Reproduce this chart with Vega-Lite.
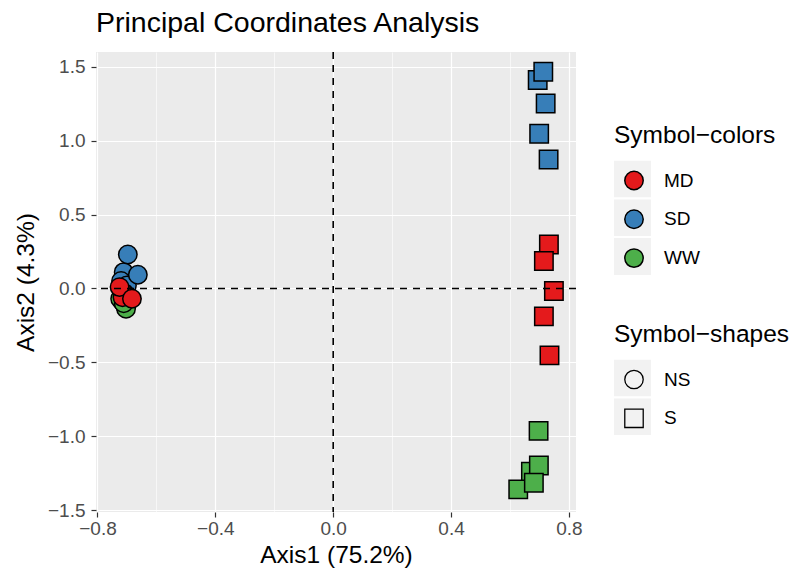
{
  "$schema": "https://vega.github.io/schema/vega-lite/v6.json",
  "width": 480,
  "height": 460,
  "autosize": {"type": "none"},
  "padding": {"left": 96, "top": 52, "right": 220, "bottom": 57},
  "background": "white",
  "config": {
    "font": "Liberation Sans",
    "view": {"fill": "#EBEBEB", "stroke": null},
    "axis": {
      "domain": false,
      "labelColor": "#4D4D4D",
      "labelFontSize": 19,
      "labelFont": "Liberation Sans",
      "tickColor": "#333333",
      "tickSize": 5,
      "tickWidth": 1.2,
      "gridColor": "white",
      "titleFont": "Liberation Sans",
      "titleFontSize": 24.5,
      "titleFontWeight": "normal",
      "titleColor": "black"
    },
    "legend": {
      "titleFont": "Liberation Sans",
      "titleFontSize": 24.5,
      "titleFontWeight": "normal",
      "titleColor": "black",
      "labelFont": "Liberation Sans",
      "labelFontSize": 19,
      "labelColor": "black",
      "symbolSize": 340,
      "symbolStrokeWidth": 1.5,
      "clipHeight": 37,
      "rowPadding": 1.8,
      "titlePadding": 12,
      "labelOffset": 20
    },
    "title": {
      "font": "Liberation Sans",
      "fontSize": 28.5,
      "fontWeight": "normal",
      "color": "black",
      "anchor": "start",
      "frame": "group",
      "offset": 14
    }
  },
  "title": "Principal Coordinates Analysis",
  "datasets": {
    "scores": [
      {"axis1": -0.711, "axis2": 0.110, "treatment": "SD", "group": "NS"},
      {"axis1": -0.720, "axis2": 0.050, "treatment": "SD", "group": "NS"},
      {"axis1": -0.697, "axis2": 0.230, "treatment": "SD", "group": "NS"},
      {"axis1": -0.700, "axis2": 0.020, "treatment": "SD", "group": "NS"},
      {"axis1": -0.663, "axis2": 0.093, "treatment": "SD", "group": "NS"},
      {"axis1": -0.715, "axis2": -0.090, "treatment": "WW", "group": "NS"},
      {"axis1": -0.723, "axis2": -0.070, "treatment": "WW", "group": "NS"},
      {"axis1": -0.705, "axis2": -0.120, "treatment": "WW", "group": "NS"},
      {"axis1": -0.703, "axis2": -0.137, "treatment": "WW", "group": "NS"},
      {"axis1": -0.711, "axis2": -0.100, "treatment": "WW", "group": "NS"},
      {"axis1": -0.710, "axis2": -0.030, "treatment": "MD", "group": "NS"},
      {"axis1": -0.700, "axis2": -0.050, "treatment": "MD", "group": "NS"},
      {"axis1": -0.715, "axis2": -0.060, "treatment": "MD", "group": "NS"},
      {"axis1": -0.725, "axis2": 0.009, "treatment": "MD", "group": "NS"},
      {"axis1": -0.683, "axis2": -0.070, "treatment": "MD", "group": "NS"},
      {"axis1": 0.694, "axis2": 1.410, "treatment": "SD", "group": "S"},
      {"axis1": 0.713, "axis2": 1.466, "treatment": "SD", "group": "S"},
      {"axis1": 0.721, "axis2": 1.252, "treatment": "SD", "group": "S"},
      {"axis1": 0.699, "axis2": 1.047, "treatment": "SD", "group": "S"},
      {"axis1": 0.731, "axis2": 0.872, "treatment": "SD", "group": "S"},
      {"axis1": 0.697, "axis2": -0.964, "treatment": "WW", "group": "S"},
      {"axis1": 0.671, "axis2": -1.241, "treatment": "WW", "group": "S"},
      {"axis1": 0.698, "axis2": -1.198, "treatment": "WW", "group": "S"},
      {"axis1": 0.628, "axis2": -1.360, "treatment": "WW", "group": "S"},
      {"axis1": 0.681, "axis2": -1.315, "treatment": "WW", "group": "S"},
      {"axis1": 0.732, "axis2": 0.297, "treatment": "MD", "group": "S"},
      {"axis1": 0.715, "axis2": 0.185, "treatment": "MD", "group": "S"},
      {"axis1": 0.749, "axis2": -0.018, "treatment": "MD", "group": "S"},
      {"axis1": 0.715, "axis2": -0.189, "treatment": "MD", "group": "S"},
      {"axis1": 0.734, "axis2": -0.453, "treatment": "MD", "group": "S"}
    ],
    "colorKeys": [{"colorKey": "key-1"}, {"colorKey": "key-2"}, {"colorKey": "key-3"}],
    "shapeKeys": [{"shapeKey": "key-a"}, {"shapeKey": "key-b"}]
  },
  "layer": [
    {
      "data": {"name": "colorKeys"},
      "mark": {"type": "point", "filled": true, "opacity": 0, "color": "#F2F2F2"},
      "encoding": {
        "stroke": {
          "field": "colorKey",
          "type": "nominal",
          "scale": {"domain": ["key-1", "key-2", "key-3"], "range": ["#F2F2F2", "#F2F2F2", "#F2F2F2"]},
          "legend": {
            "title": "Symbol−colors",
            "orient": "none",
            "legendX": 518,
            "legendY": 72,
            "zindex": 0,
            "symbolType": "square",
            "symbolSize": 1369,
            "symbolFillColor": "#F2F2F2",
            "symbolStrokeColor": "#F2F2F2",
            "symbolStrokeWidth": 0,
            "symbolOpacity": 1,
            "labelExpr": "''"
          }
        }
      }
    },
    {
      "data": {"name": "shapeKeys"},
      "mark": {"type": "point", "filled": true, "opacity": 0, "color": "#F2F2F2"},
      "encoding": {
        "size": {
          "field": "shapeKey",
          "type": "ordinal",
          "scale": {"domain": ["key-a", "key-b"], "range": [1369, 1369]},
          "legend": {
            "title": "Symbol−shapes",
            "orient": "none",
            "legendX": 518,
            "legendY": 271,
            "zindex": 0,
            "symbolType": "square",
            "symbolFillColor": "#F2F2F2",
            "symbolStrokeColor": "#F2F2F2",
            "symbolStrokeWidth": 0,
            "symbolOpacity": 1,
            "labelExpr": "''"
          }
        }
      }
    },
    {
      "data": {"name": "scores"},
      "mark": {"type": "point", "filled": true, "opacity": 1, "stroke": "black", "strokeWidth": 1.5, "size": 340},
      "encoding": {
        "x": {
          "field": "axis1",
          "type": "quantitative",
          "scale": {"domain": [-0.805, 0.824], "nice": false, "zero": false},
          "axis": {
            "title": "Axis1 (75.2%)",
            "values": [-0.8, -0.6, -0.4, -0.2, 0, 0.2, 0.4, 0.6, 0.8],
            "format": ".1f",
            "labelExpr": "abs(round(datum.value * 10)) % 4 == 0 ? datum.label : ''",
            "labelPadding": 2,
            "titlePadding": 5,
            "gridWidth": {"condition": {"test": "abs(round(datum.value * 10)) % 4 == 0", "value": 1.2}, "value": 0.6},
            "tickOpacity": {"condition": {"test": "abs(round(datum.value * 10)) % 4 == 0", "value": 1}, "value": 0}
          }
        },
        "y": {
          "field": "axis2",
          "type": "quantitative",
          "scale": {"domain": [-1.513, 1.6], "nice": false, "zero": false},
          "axis": {
            "title": "Axis2 (4.3%)",
            "values": [-1.5, -1.25, -1, -0.75, -0.5, -0.25, 0, 0.25, 0.5, 0.75, 1, 1.25, 1.5],
            "format": ".1f",
            "labelExpr": "abs(round(datum.value * 4)) % 2 == 0 ? datum.label : ''",
            "labelPadding": 6,
            "titlePadding": 9,
            "gridWidth": {"condition": {"test": "abs(round(datum.value * 4)) % 2 == 0", "value": 1.2}, "value": 0.6},
            "tickOpacity": {"condition": {"test": "abs(round(datum.value * 4)) % 2 == 0", "value": 1}, "value": 0}
          }
        },
        "fill": {
          "field": "treatment",
          "type": "nominal",
          "scale": {"domain": ["MD", "SD", "WW"], "range": ["#E41A1C", "#377EB8", "#4DAF4A"]},
          "legend": {
            "title": null,
            "orient": "none",
            "legendX": 528,
            "legendY": 110,
            "zindex": 1,
            "symbolType": "circle",
            "symbolStrokeColor": "black",
            "symbolStrokeWidth": 1.5,
            "symbolOpacity": 1
          }
        },
        "shape": {
          "field": "group",
          "type": "nominal",
          "scale": {"domain": ["NS", "S"], "range": ["circle", "square"]},
          "legend": {
            "title": null,
            "orient": "none",
            "legendX": 528,
            "legendY": 309,
            "zindex": 1,
            "symbolFillColor": "transparent",
            "symbolStrokeColor": "black",
            "symbolStrokeWidth": 1.3,
            "symbolOpacity": 1
          }
        }
      }
    },
    {
      "data": {"values": [{"origin": 0}]},
      "mark": {"type": "rule", "color": "black", "strokeWidth": 1.6, "strokeDash": [7, 6]},
      "encoding": {"x": {"field": "origin", "type": "quantitative"}}
    },
    {
      "data": {"values": [{"origin": 0}]},
      "mark": {"type": "rule", "color": "black", "strokeWidth": 1.6, "strokeDash": [7, 6]},
      "encoding": {"y": {"field": "origin", "type": "quantitative"}}
    }
  ]
}
